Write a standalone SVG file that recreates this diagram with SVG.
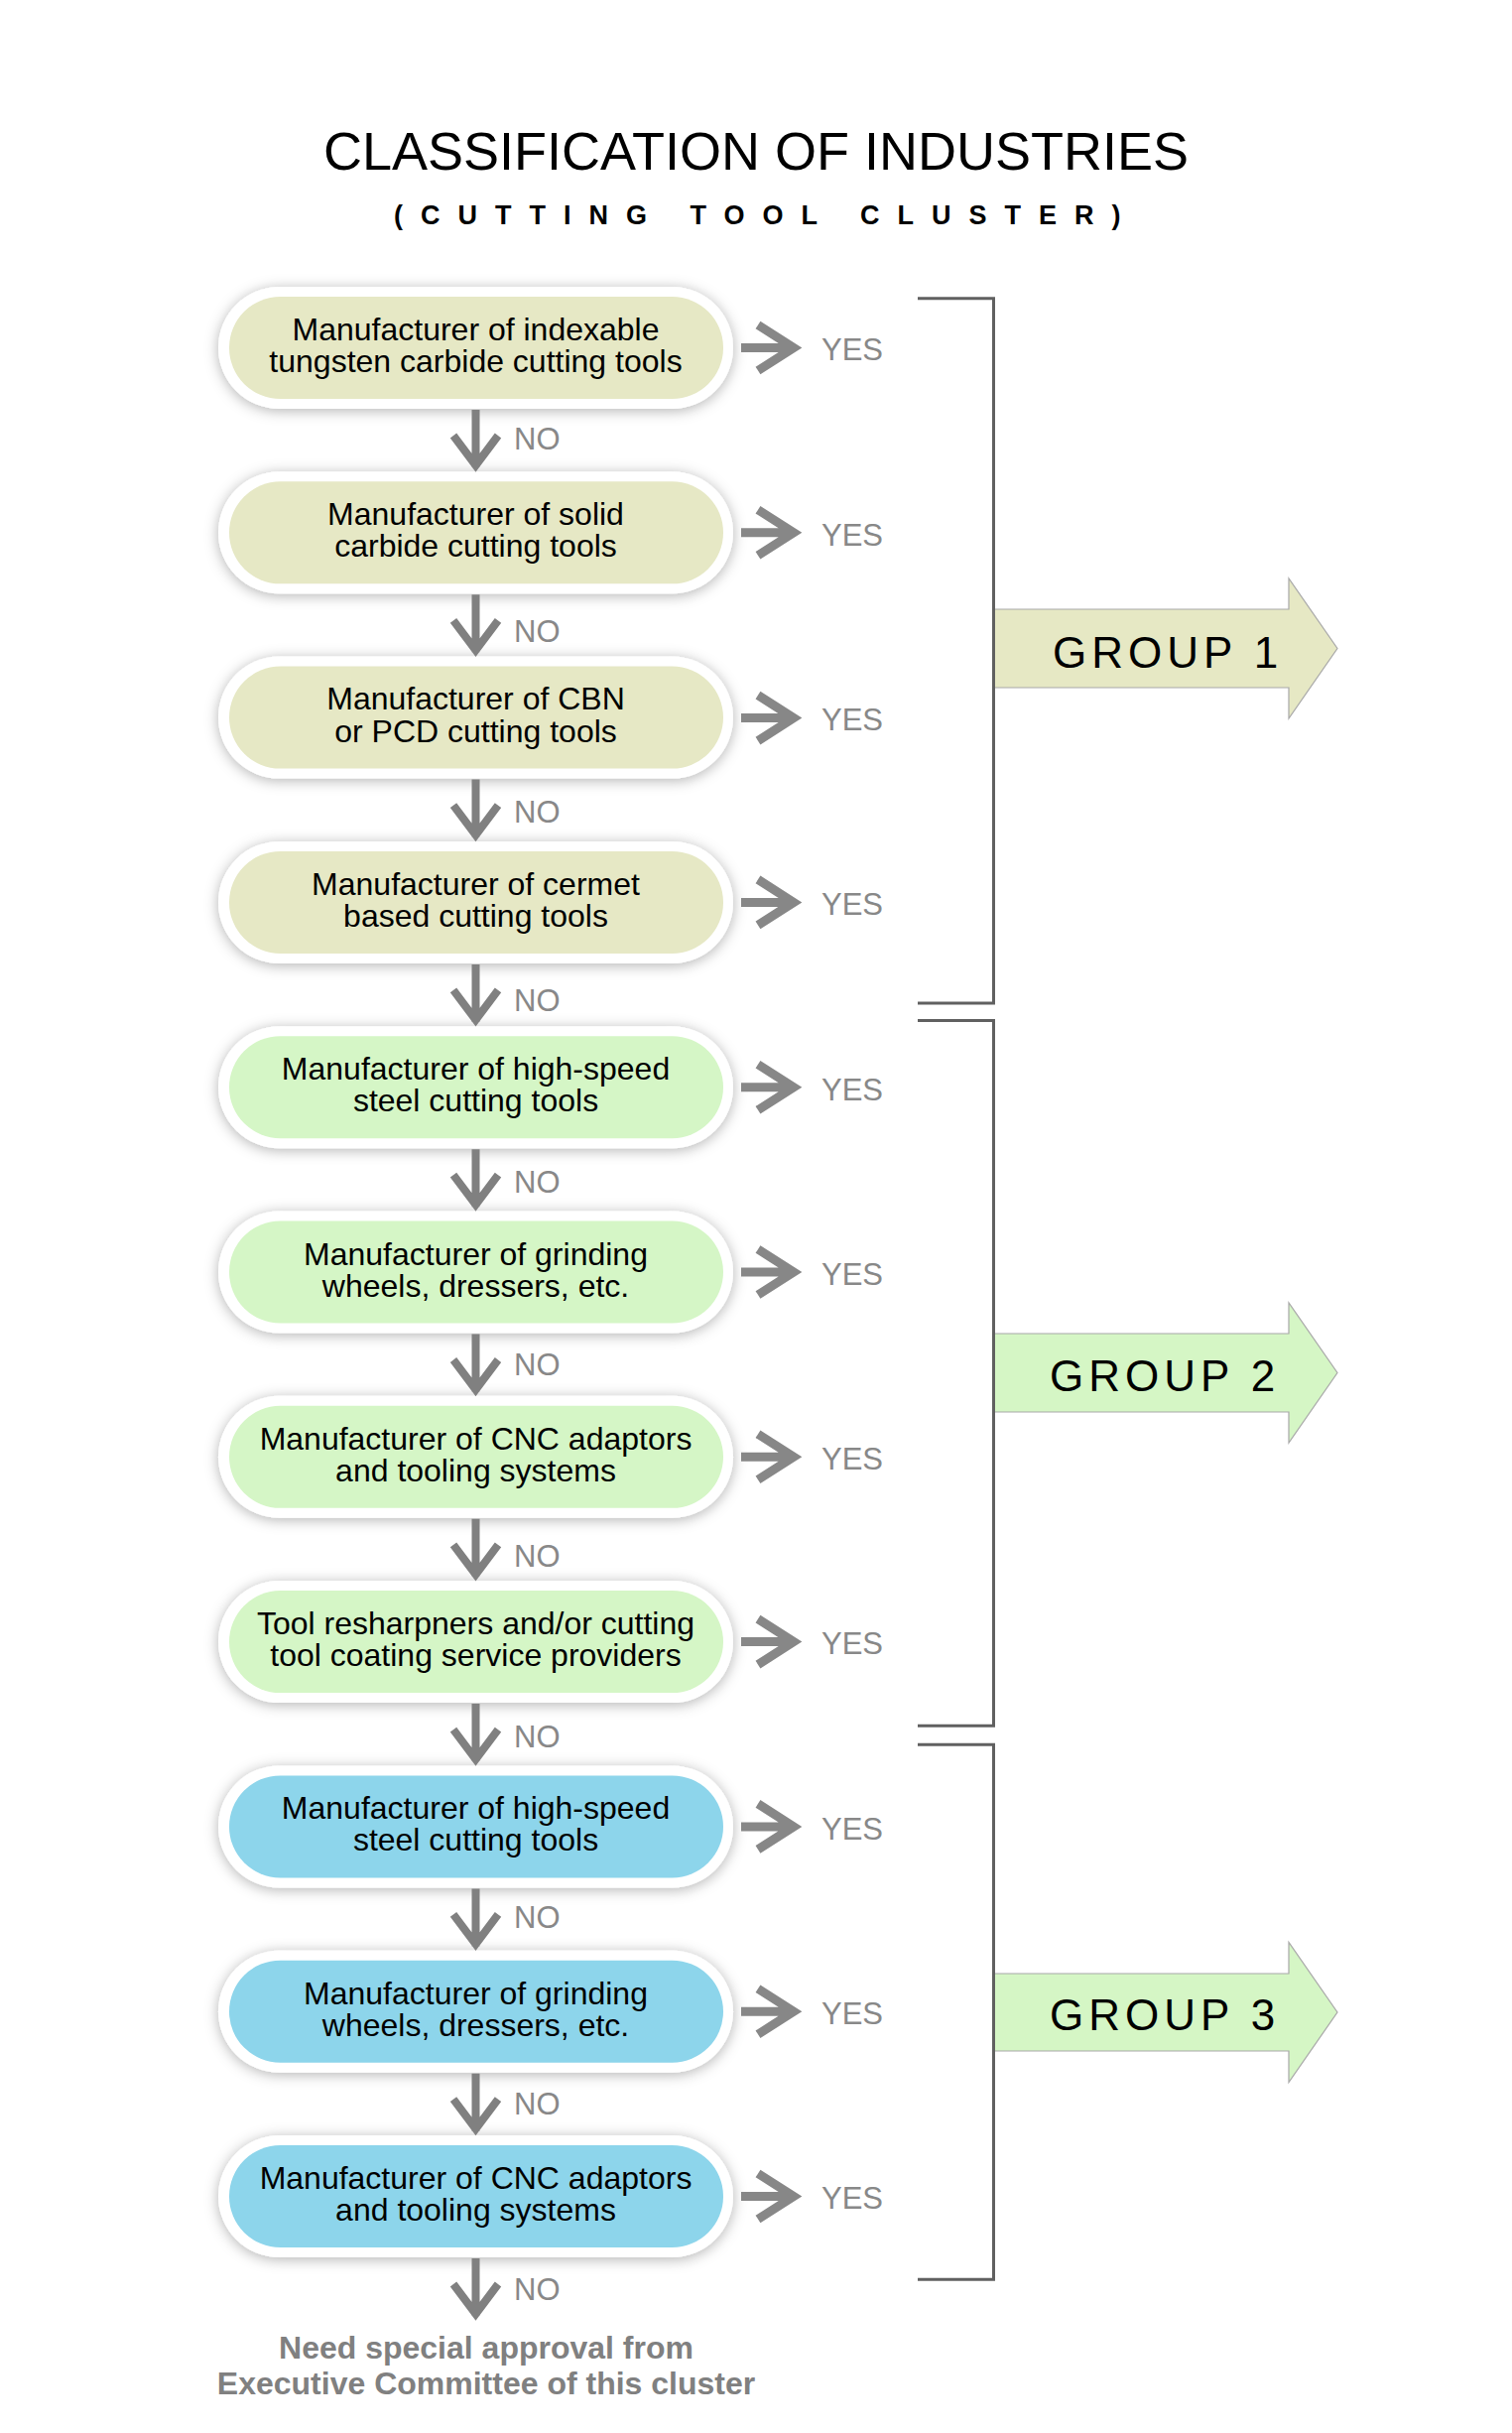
<svg xmlns="http://www.w3.org/2000/svg" width="1524" height="2452" viewBox="0 0 1524 2452">
<style>
.title{font-family:"Liberation Sans",Arial,sans-serif;font-size:54px;fill:#000}
.sub{font-family:"Liberation Sans",Arial,sans-serif;font-size:27px;font-weight:bold;fill:#000;letter-spacing:18px}
.outer{fill:#fff;filter:url(#sh)}
.g1{fill:#E6E8C5}
.g2{fill:#D5F6C6}
.g3{fill:#8DD5EB}
.nt{font-family:"Liberation Sans",Arial,sans-serif;font-size:32px;fill:#000;text-anchor:middle}
.lbl{font-family:"Liberation Sans",Arial,sans-serif;font-size:31px;fill:#888}
.arr{fill:none;stroke:#878787;stroke-width:9;stroke-linejoin:miter;stroke-miterlimit:10}
.darr{fill:none;stroke:#808080;stroke-width:8;stroke-linejoin:miter;stroke-miterlimit:10}
.br{fill:none;stroke:#606060;stroke-width:3}
.ga{stroke:#a8a8a8;stroke-width:1.2}
.gt{font-family:"Liberation Sans",Arial,sans-serif;font-size:44px;fill:#000;letter-spacing:5px}
.foot{font-family:"Liberation Sans",Arial,sans-serif;font-size:32px;font-weight:bold;fill:#808080;text-anchor:middle}
</style>
<defs>
<filter id="sh" x="-10%" y="-30%" width="120%" height="160%">
<feDropShadow dx="0" dy="2" stdDeviation="7" flood-color="#000" flood-opacity="0.3"/>
</filter>
<path id="yes" d="M747,0 H801 M764,-23 L800,0 L764,23"/>
<path id="no" d="M479.5,124 V182 M457,150 L479.5,180 L502,150"/>
</defs>
<rect width="1524" height="2452" fill="#fff"/>
<text class="title" x="762" y="170.7" text-anchor="middle">CLASSIFICATION OF INDUSTRIES</text>
<text class="sub" x="397" y="226">(CUTTING TOOL CLUSTER)</text>

<g id="node1" transform="translate(0,289)">
<rect class="outer" x="220" y="0" width="519" height="123" rx="61.5"/>
<rect class="g1" x="231" y="10" width="498" height="103" rx="51.5"/>
<text class="nt" x="479.5" y="54">Manufacturer of indexable</text>
<text class="nt" x="479.5" y="86">tungsten carbide cutting tools</text>
</g>
<g id="node2" transform="translate(0,475.3)">
<rect class="outer" x="220" y="0" width="519" height="123" rx="61.5"/>
<rect class="g1" x="231" y="10" width="498" height="103" rx="51.5"/>
<text class="nt" x="479.5" y="54">Manufacturer of solid</text>
<text class="nt" x="479.5" y="86">carbide cutting tools</text>
</g>
<g id="node3" transform="translate(0,661.6)">
<rect class="outer" x="220" y="0" width="519" height="123" rx="61.5"/>
<rect class="g1" x="231" y="10" width="498" height="103" rx="51.5"/>
<text class="nt" x="479.5" y="53">Manufacturer of CBN</text>
<text class="nt" x="479.5" y="86">or PCD cutting tools</text>
</g>
<g id="node4" transform="translate(0,847.9)">
<rect class="outer" x="220" y="0" width="519" height="123" rx="61.5"/>
<rect class="g1" x="231" y="10" width="498" height="103" rx="51.5"/>
<text class="nt" x="479.5" y="54">Manufacturer of cermet</text>
<text class="nt" x="479.5" y="86">based cutting tools</text>
</g>
<g id="node5" transform="translate(0,1034.2)">
<rect class="outer" x="220" y="0" width="519" height="123" rx="61.5"/>
<rect class="g2" x="231" y="10" width="498" height="103" rx="51.5"/>
<text class="nt" x="479.5" y="54">Manufacturer of high-speed</text>
<text class="nt" x="479.5" y="86">steel cutting tools</text>
</g>
<g id="node6" transform="translate(0,1220.5)">
<rect class="outer" x="220" y="0" width="519" height="123" rx="61.5"/>
<rect class="g2" x="231" y="10" width="498" height="103" rx="51.5"/>
<text class="nt" x="479.5" y="54">Manufacturer of grinding</text>
<text class="nt" x="479.5" y="86">wheels, dressers, etc.</text>
</g>
<g id="node7" transform="translate(0,1406.8)">
<rect class="outer" x="220" y="0" width="519" height="123" rx="61.5"/>
<rect class="g2" x="231" y="10" width="498" height="103" rx="51.5"/>
<text class="nt" x="479.5" y="54">Manufacturer of CNC adaptors</text>
<text class="nt" x="479.5" y="86">and tooling systems</text>
</g>
<g id="node8" transform="translate(0,1593.1)">
<rect class="outer" x="220" y="0" width="519" height="123" rx="61.5"/>
<rect class="g2" x="231" y="10" width="498" height="103" rx="51.5"/>
<text class="nt" x="479.5" y="54">Tool resharpners and/or cutting</text>
<text class="nt" x="479.5" y="86">tool coating service providers</text>
</g>
<g id="node9" transform="translate(0,1779.4)">
<rect class="outer" x="220" y="0" width="519" height="123" rx="61.5"/>
<rect class="g3" x="231" y="10" width="498" height="103" rx="51.5"/>
<text class="nt" x="479.5" y="54">Manufacturer of high-speed</text>
<text class="nt" x="479.5" y="86">steel cutting tools</text>
</g>
<g id="node10" transform="translate(0,1965.7)">
<rect class="outer" x="220" y="0" width="519" height="123" rx="61.5"/>
<rect class="g3" x="231" y="10" width="498" height="103" rx="51.5"/>
<text class="nt" x="479.5" y="54">Manufacturer of grinding</text>
<text class="nt" x="479.5" y="86">wheels, dressers, etc.</text>
</g>
<g id="node11" transform="translate(0,2152)">
<rect class="outer" x="220" y="0" width="519" height="123" rx="61.5"/>
<rect class="g3" x="231" y="10" width="498" height="103" rx="51.5"/>
<text class="nt" x="479.5" y="54">Manufacturer of CNC adaptors</text>
<text class="nt" x="479.5" y="86">and tooling systems</text>
</g>

<g id="end-note">
<text class="foot" x="490" y="2376.7">Need special approval from</text>
<text class="foot" x="490" y="2413.3">Executive Committee of this cluster</text>
</g>

<g id="group1">
<path class="ga" fill="#E6E8C4" d="M1002,614 H1299 V583 L1348,653.5 L1299,724 V693 H1002 Z"/>
<text class="gt" x="1061" y="673.3">GROUP 1</text>
</g>
<g id="group2">
<path class="ga" fill="#D5F6C5" d="M1002,1344 H1299 V1313 L1348,1383.5 L1299,1454 V1423 H1002 Z"/>
<text class="gt" x="1058" y="1401.7">GROUP 2</text>
</g>
<g id="group3">
<path class="ga" fill="#D5F6C5" d="M1002,1989 H1299 V1957.5 L1348,2028 L1299,2098.5 V2067 H1002 Z"/>
<text class="gt" x="1058" y="2045.7">GROUP 3</text>
</g>

<g id="connectors">
<path class="br" d="M925,300.7 H1001.5 V1011 H925"/>
<path class="br" d="M925,1028.5 H1001.5 V1739.3 H925"/>
<path class="br" d="M925,1758.3 H1001.5 V2297.3 H925"/>

<use href="#yes" class="arr" transform="translate(0,350.5)"/>
<use href="#yes" class="arr" transform="translate(0,536.8)"/>
<use href="#yes" class="arr" transform="translate(0,723.6)"/>
<use href="#yes" class="arr" transform="translate(0,909.4)"/>
<use href="#yes" class="arr" transform="translate(0,1095.7)"/>
<use href="#yes" class="arr" transform="translate(0,1282)"/>
<use href="#yes" class="arr" transform="translate(0,1468.3)"/>
<use href="#yes" class="arr" transform="translate(0,1654.6)"/>
<use href="#yes" class="arr" transform="translate(0,1840.9)"/>
<use href="#yes" class="arr" transform="translate(0,2027.2)"/>
<use href="#yes" class="arr" transform="translate(0,2213.5)"/>

<text class="lbl" x="828" y="363.3">YES</text>
<text class="lbl" x="828" y="549.6">YES</text>
<text class="lbl" x="828" y="736.4">YES</text>
<text class="lbl" x="828" y="922.2">YES</text>
<text class="lbl" x="828" y="1108.5">YES</text>
<text class="lbl" x="828" y="1294.8">YES</text>
<text class="lbl" x="828" y="1481.1">YES</text>
<text class="lbl" x="828" y="1667.4">YES</text>
<text class="lbl" x="828" y="1853.7">YES</text>
<text class="lbl" x="828" y="2040">YES</text>
<text class="lbl" x="828" y="2226.3">YES</text>

<use href="#no" class="darr" transform="translate(0,289)"/>
<use href="#no" class="darr" transform="translate(0,475.3)"/>
<use href="#no" class="darr" transform="translate(0,661.6)"/>
<use href="#no" class="darr" transform="translate(0,847.9)"/>
<use href="#no" class="darr" transform="translate(0,1034.2)"/>
<use href="#no" class="darr" transform="translate(0,1220.5)"/>
<use href="#no" class="darr" transform="translate(0,1406.8)"/>
<use href="#no" class="darr" transform="translate(0,1593.1)"/>
<use href="#no" class="darr" transform="translate(0,1779.4)"/>
<use href="#no" class="darr" transform="translate(0,1965.7)"/>
<use href="#no" class="darr" transform="translate(0,2152)"/>

<text class="lbl" x="518" y="453">NO</text>
<text class="lbl" x="518" y="647">NO</text>
<text class="lbl" x="518" y="828.5">NO</text>
<text class="lbl" x="518" y="1019">NO</text>
<text class="lbl" x="518" y="1202">NO</text>
<text class="lbl" x="518" y="1386">NO</text>
<text class="lbl" x="518" y="1579">NO</text>
<text class="lbl" x="518" y="1761">NO</text>
<text class="lbl" x="518" y="1943.4">NO</text>
<text class="lbl" x="518" y="2130.7">NO</text>
<text class="lbl" x="518" y="2318">NO</text>
</g>
</svg>
